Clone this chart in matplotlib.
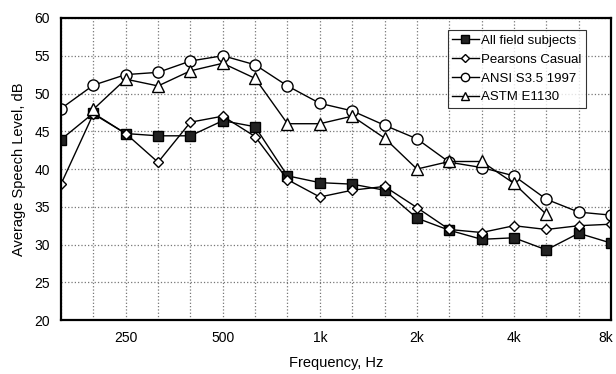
import numpy as np
from matplotlib import pyplot as plt
from matplotlib import transforms

plt.rcParams['font.family'] = ['Liberation Sans', 'DejaVu Sans']

bands = ['160', '200', '250', '315', '400', '500', '630', '800', '1k', '1.25k',
         '1.6k', '2k', '2.5k', '3.15k', '4k', '5k', '6.3k', '8k']
shown_labels = ['250', '500', '1k', '2k', '4k', '8k']

field = [43.9, 47.4, 44.7, 44.4, 44.4, 46.4, 45.6, 39.1, 38.2, 38.0,
         37.2, 33.5, 31.9, 30.7, 30.9, 29.3, 31.5, 30.2]
pearsons = [38.0, 47.3, 44.7, 40.9, 46.2, 47.0, 44.3, 38.6, 36.3, 37.2,
            37.7, 34.9, 32.0, 31.6, 32.5, 32.0, 32.5, 32.7]
ansi = [48.0, 51.1, 52.5, 52.8, 54.3, 55.0, 53.8, 51.0, 48.7, 47.7,
        45.8, 44.0, 40.9, 40.2, 39.1, 36.0, 34.3, 33.9]
astm = [None, 47.9, 51.9, 51.0, 53.0, 54.0, 52.0, 46.0, 46.0, 47.0,
        44.1, 40.0, 41.0, 41.0, 38.1, 34.0, None, None]

x = np.arange(len(bands))
astm_arr = np.array([np.nan if v is None else v for v in astm])

fig, ax = plt.subplots(figsize=(6.16, 3.74), dpi=100)
fig.subplots_adjust(left=0.099, right=0.992, bottom=0.144, top=0.952)

ax.plot(x, field, '-s', color='black', lw=1, ms=7, mfc='#222222', mec='black',
        label='All field subjects')
ax.plot(x, pearsons, '-D', color='black', lw=1, ms=5, mfc='white', mec='black',
        label='Pearsons Casual')
ax.plot(x, ansi, '-o', color='black', lw=1, ms=8, mfc='white', mec='black',
        label='ANSI S3.5 1997')
ax.plot(x, astm_arr, '-^', color='black', lw=1, ms=8, mfc='white', mec='black',
        label='ASTM E1130')

ax.set_xlim(0, len(bands) - 1)
ax.set_ylim(20, 60)
ax.set_yticks(np.arange(20, 61, 5))
ax.set_xticks(x)
ax.set_xticklabels([b if b in shown_labels else '' for b in bands])
ax.tick_params(length=0, labelsize=10, pad=8)
ax.grid(True, color='#777777', linestyle=':', linewidth=0.9)

# keep the last label inside the figure
last = ax.get_xticklabels()[-1]
last.set_transform(last.get_transform() + transforms.ScaledTranslation(-5 / 100, 0, fig.dpi_scale_trans))

for s in ax.spines.values():
    s.set_linewidth(1.6)

ax.set_xlabel('Frequency, Hz', fontsize=10.5, labelpad=8)
ax.set_ylabel('Average Speech Level, dB', fontsize=10.5, labelpad=6)

leg = ax.legend(loc='upper right', bbox_to_anchor=(0.955, 0.96), fontsize=9.5,
                frameon=True, fancybox=False, edgecolor='black', handlelength=2,
                handletextpad=0.2, borderpad=0.35, labelspacing=0.5, borderaxespad=0,
                markerscale=0.75)
leg.get_frame().set_linewidth(0.8)

fig.savefig('out.png')
